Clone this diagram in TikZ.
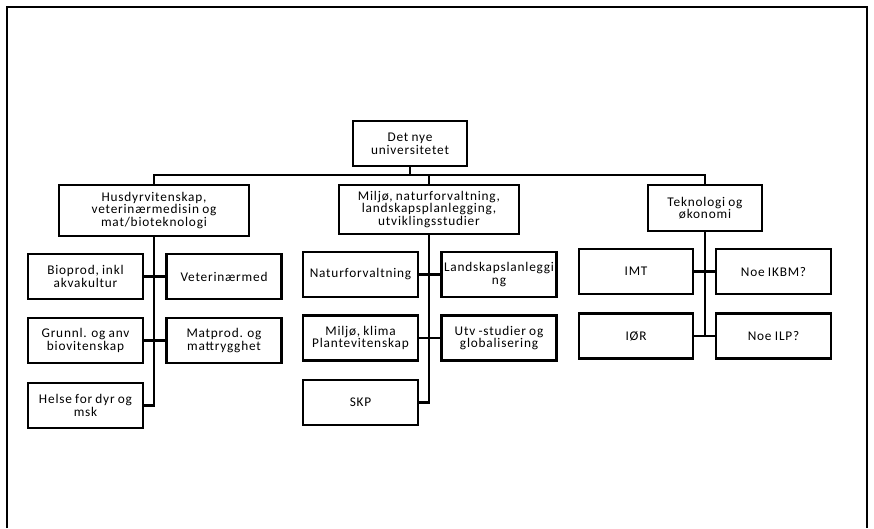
\documentclass[tikz,border=0pt]{standalone}
\usepackage{fontspec}
\setmainfont{Carlito}[LetterSpace=6, WordSpace=0.85]
\begin{document}
\begin{tikzpicture}[x=1pt, y=-1pt,
  box/.style={draw, line width=2.2pt, align=center, inner sep=0pt,
    font=\fontsize{13.3}{12.7}\selectfont},
  sub/.style={box, minimum width=115pt, minimum height=45pt},
  link/.style={line width=2.5pt}]
\useasboundingbox (0,0) rectangle (874,528);
% outer frame
\draw[line width=2pt] (7,528) -- (7,7) -- (867,7) -- (867,528);

% top level
\node[box, minimum width=114pt, minimum height=45pt] (root) at (410,143.5) {Det nye\\universitetet};
\node[box, minimum width=190pt, minimum height=51pt] (hus) at (154,210.5) {Husdyrvitenskap,\\veterinærmedisin og\\mat/bioteknologi};
\node[box, minimum width=180pt, minimum height=49pt] (mil) at (429,209.5) {Miljø, naturforvaltning,\\landskapsplanlegging,\\utviklingsstudier};
\node[box, minimum width=114pt, minimum height=46pt] (tek) at (705,208) {Teknologi og\\økonomi};
\coordinate (bar) at (0,175);

% left group
\node[sub] (bio) at (85.5,276.5) {Bioprod, inkl\\akvakultur};
\node[sub] (vet) at (224,276.5) {Veterinærmed};
\node[sub] (gru) at (85.5,340.5) {Grunnl. og anv\\biovitenskap};
\node[sub] (mat) at (224,340.5) {Matprod. og\\mattrygghet};
\node[sub] (hel) at (85.5,405.5) {Helse for dyr og\\msk};

% middle group
\node[sub] (nat) at (360.5,274.5) {Naturforvaltning};
\node[sub] (lan) at (499,274.5) {Landskapslanleggi\\ng};
\node[sub] (mk)  at (360.5,338) {Miljø, klima\\Plantevitenskap};
\node[sub] (utv) at (499,338) {Utv -studier og\\globalisering};
\node[sub] (skp) at (360.5,402.5) {SKP};

% right group
\node[sub, minimum width=114pt] (imt)  at (636,271.5) {IMT};
\node[sub] (ikbm) at (773.5,271.5) {Noe IKBM?};
\node[sub, minimum width=114pt] (ior)  at (636,336) {IØR};
\node[sub] (ilp)  at (773.5,336) {Noe ILP?};

% top connectors
\draw[link] (root.south) -- (root.south |- bar);
\draw[link] (hus.north) -- (hus.north |- bar) -- (tek.north |- bar) -- (tek.north);
\draw[link] (mil.north) -- (mil.north |- bar);

% left group connectors
\draw[link] (hus.south) -- (hus.south |- hel.east) -- (hel.east);
\draw[link] (bio.east) -- (vet.west);
\draw[link] (gru.east) -- (mat.west);

% middle group connectors
\draw[link] (mil.south) -- (mil.south |- skp.east) -- (skp.east);
\draw[link] (nat.east) -- (lan.west);
\draw[link] (mk.east) -- (utv.west);

% right group connectors
\draw[link] (tek.south) -- (tek.south |- ior.east);
\draw[link] (imt.east) -- (ikbm.west);
\draw[link] (ior.east) -- (ilp.west);
\end{tikzpicture}
\end{document}
